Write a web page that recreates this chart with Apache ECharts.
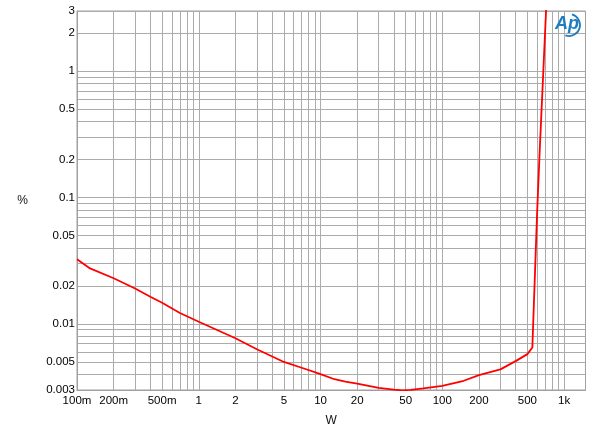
<!DOCTYPE html>
<html>
<head>
<meta charset="utf-8">
<script src="https://cdn.jsdelivr.net/npm/echarts@6/dist/echarts.min.js"></script>
<style>html,body{margin:0;padding:0;background:#fff;}#c{width:600px;height:432px;}</style>
</head>
<body>
<div id="c"></div>
<script>
// Power (W) and THD+N (%)
var powerW = [0.1, 0.128, 0.2, 0.3, 0.4, 0.5, 0.7, 1, 2, 3, 5, 7, 10, 13, 16, 20, 30, 40, 47, 55, 70, 100, 150, 200, 300, 400, 500, 549, 600, 630, 700, 720];
var thdPct = [0.0325, 0.0275, 0.0230, 0.0191, 0.0164, 0.0147, 0.0122, 0.0104, 0.0077, 0.0063, 0.0050, 0.0045, 0.0040, 0.00365, 0.0035, 0.00337, 0.00312, 0.00302, 0.00298, 0.00301, 0.00309, 0.00324, 0.00355, 0.00394, 0.00437, 0.00508, 0.00577, 0.0065, 0.0733, 0.227, 2.13, 3.85];

var xTickValues = [0.1, 0.2, 0.5, 1, 2, 5, 10, 20, 50, 100, 200, 500, 1000];
var xTickLabels = ['100m', '200m', '500m', '1', '2', '5', '10', '20', '50', '100', '200', '500', '1k'];
var yTickValues = [0.003, 0.005, 0.01, 0.02, 0.05, 0.1, 0.2, 0.5, 1, 2, 3];
var yTickLabels = ['0.003', '0.005', '0.01', '0.02', '0.05', '0.1', '0.2', '0.5', '1', '2', '3'];

var xGridValues = [0.1,0.2,0.3,0.4,0.5,0.6,0.7,0.8,0.9,1,2,3,4,5,6,7,8,9,10,20,30,40,50,60,70,80,90,100,200,300,400,500,600,700,800,900,1000];
var yGridValues = [0.003,0.004,0.005,0.006,0.007,0.008,0.009,0.01,0.02,0.03,0.04,0.05,0.06,0.07,0.08,0.09,0.1,0.2,0.3,0.4,0.5,0.6,0.7,0.8,0.9,1,2,3];

function lookup(vals, labels, v) {
  var best = 0, bd = Infinity;
  for (var i = 0; i < vals.length; i++) {
    var d = Math.abs(Math.log(vals[i]) - Math.log(v));
    if (d < bd) { bd = d; best = i; }
  }
  return bd < 0.01 ? labels[best] : '';
}

var chart = echarts.init(document.getElementById('c'), null, {renderer: 'canvas'});
var font = 'Arial, "Liberation Sans", sans-serif';
var gridColor = '#ababab';
chart.setOption({
  animation: false,
  backgroundColor: '#ffffff',
  grid: {left: 77, top: 11, right: 14.5, bottom: 42, show: true, borderColor: '#a0a0a0', borderWidth: 1, backgroundColor: 'transparent'},
  xAxis: {
    type: 'log', logBase: 10, min: 0.1, max: 1500,
    name: 'W', nameLocation: 'middle', nameGap: 25,
    nameTextStyle: {fontFamily: font, fontSize: 12, color: '#111'},
    axisLine: {show: true, lineStyle: {color: '#a0a0a0'}},
    axisTick: {show: false, customValues: xGridValues},
    splitLine: {show: true, lineStyle: {color: gridColor, width: 1}},
    axisLabel: {
      customValues: xTickValues, margin: 5,
      fontFamily: font, fontSize: 11.5, color: '#000',
      formatter: function (v) { return lookup(xTickValues, xTickLabels, v); }
    }
  },
  yAxis: {
    type: 'log', logBase: 10, min: 0.003, max: 3,
    name: '%', nameLocation: 'middle', nameGap: 49, nameRotate: 0,
    nameTextStyle: {fontFamily: font, fontSize: 12, color: '#111'},
    axisLine: {show: true, lineStyle: {color: '#a0a0a0'}},
    axisTick: {show: false, customValues: yGridValues},
    splitLine: {show: true, lineStyle: {color: gridColor, width: 1}},
    axisLabel: {
      customValues: yTickValues, margin: 2,
      fontFamily: font, fontSize: 11.5, color: '#000',
      formatter: function (v) { return lookup(yTickValues, yTickLabels, v); }
    }
  },
  graphic: [
    {type: 'text', left: 555, top: 15, style: {text: 'Ap', fontFamily: font, fontSize: 18, fontStyle: 'italic', fontWeight: 'bold', fill: '#1f7cc0'}, z: 10},
    {type: 'arc', shape: {cx: 569, cy: 25, r: 11, startAngle: -1.3, endAngle: 1.9}, style: {stroke: '#1f7cc0', lineWidth: 1.8, fill: 'none'}, z: 10}
  ],
  series: [{
    type: 'line',
    data: powerW.map(function (w, i) { return [w, thdPct[i]]; }),
    showSymbol: false, symbol: 'none',
    lineStyle: {color: '#ff0000', width: 1.8},
    clip: true,
    z: 5
  }]
});
</script>
</body>
</html>
